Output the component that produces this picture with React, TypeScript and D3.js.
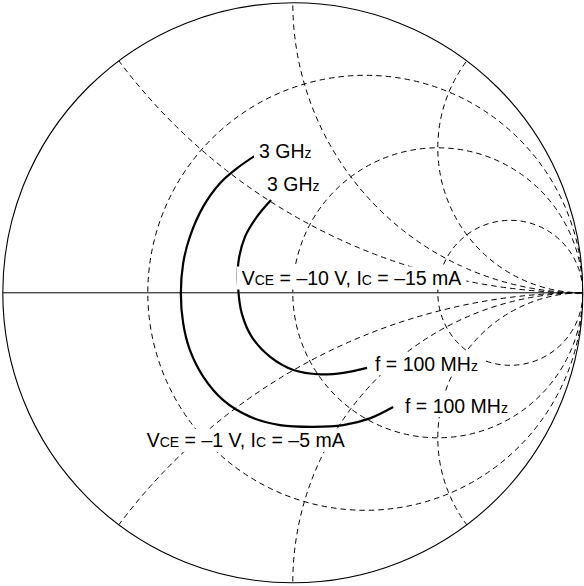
import * as React from 'react'
import * as d3 from 'd3'

const width = 584
const height = 586

// normalized resistance circles and reactance arcs of the grid
const resistanceValues = [1 / 3, 1, 3]
const reactanceValues = [0.5, 1, 2, -0.5, -1, -2]

// reflection coefficient [re, im], from 3 GHz down to 100 MHz
// VCE = -1 V, IC = -5 mA
const lowBiasGamma = [
  [-0.127, 0.475], [-0.193, 0.429], [-0.251, 0.378], [-0.309, 0.297],
  [-0.355, 0.193], [-0.378, 0.102], [-0.386, -0.002], [-0.378, -0.105],
  [-0.355, -0.197], [-0.309, -0.289], [-0.240, -0.370], [-0.148, -0.427],
  [-0.044, -0.456], [0.071, -0.462], [0.174, -0.456], [0.266, -0.433],
  [0.346, -0.394],
]
// VCE = -10 V, IC = -15 mA
const highBiasGamma = [
  [-0.075, 0.320], [-0.124, 0.262], [-0.165, 0.193], [-0.188, 0.102],
  [-0.188, 0.010], [-0.176, -0.071], [-0.142, -0.151], [-0.079, -0.220],
  [0.002, -0.266], [0.094, -0.281], [0.174, -0.276], [0.256, -0.259],
]

// label text pieces: [text, small]
const labelParts = [
  [['3 GH', false], ['z', true]],
  [['3 GH', false], ['z', true]],
  [['f = 100 MH', false], ['z', true]],
  [['f = 100 MH', false], ['z', true]],
  [['V', false], ['CE', true], [' = \u201310 V, I', false], ['C', true], [' = \u201315 mA', false]],
  [['V', false], ['CE', true], [' = \u20131 V, I', false], ['C', true], [' = \u20135 mA', false]],
]
// label anchors in the reflection plane
const labelAnchors = [
  [-0.1166, 0.4638],
  [-0.089, 0.352],
  [0.2834, -0.268],
  [0.3869, -0.4128],
  [-0.1762, 0.0269],
  [-0.5038, -0.5328],
]

const App = () => {
  const ref = React.useRef<SVGSVGElement>(null)

  React.useEffect(() => {
    const svg = d3.select(ref.current)
    svg.selectAll('*').remove()

    const cx = 292.8
    const cy = 292.8
    const R = 290
    const x = d3.scaleLinear().domain([-1, 1]).range([cx - R, cx + R])
    const y = d3.scaleLinear().domain([-1, 1]).range([cy + R, cy - R])
    const k = x(1) - x(0)

    svg.append('defs').append('clipPath').attr('id', 'unit')
      .append('circle').attr('cx', x(0)).attr('cy', y(0)).attr('r', k)

    const grid = svg.append('g')
      .attr('clip-path', 'url(#unit)')
      .attr('fill', 'none')
      .attr('stroke', '#000')
      .attr('stroke-width', 1)
      .attr('stroke-dasharray', '5.5,4')

    grid.selectAll('circle.res').data(resistanceValues).join('circle')
      .attr('class', 'res')
      .attr('cx', r => x(r / (1 + r)))
      .attr('cy', y(0))
      .attr('r', r => k / (1 + r))

    grid.selectAll('circle.rea').data(reactanceValues).join('circle')
      .attr('class', 'rea')
      .attr('cx', x(1))
      .attr('cy', v => y(1 / v))
      .attr('r', v => k / Math.abs(v))

    svg.append('line')
      .attr('x1', x(-1)).attr('x2', x(1))
      .attr('y1', y(0)).attr('y2', y(0))
      .attr('stroke', '#000').attr('stroke-width', 1)

    svg.append('circle')
      .attr('cx', x(0)).attr('cy', y(0)).attr('r', k)
      .attr('fill', 'none').attr('stroke', '#000').attr('stroke-width', 1.1)

    const line = d3.line<number[]>()
      .x(d => x(d[0]))
      .y(d => y(d[1]))
      .curve(d3.curveCatmullRom.alpha(0.5))

    svg.selectAll('path.trace').data([lowBiasGamma, highBiasGamma]).join('path')
      .attr('class', 'trace')
      .attr('d', d => line(d))
      .attr('fill', 'none')
      .attr('stroke', '#000')
      .attr('stroke-width', 2.2)

    labelParts.forEach((parts, i) => {
      const g = svg.append('g')
      const t = g.append('text')
        .attr('x', x(labelAnchors[i][0]))
        .attr('y', y(labelAnchors[i][1]))
        .attr('font-family', '"Liberation Sans", Arial, sans-serif')
        .attr('font-size', 19.5)
        .attr('fill', '#000')
        .style('white-space', 'pre')
      parts.forEach(([s, small]) => {
        t.append('tspan').attr('font-size', small ? 14 : 19.5).text(s as string)
      })
      const b = (t.node() as SVGTextElement).getBBox()
      g.insert('rect', 'text')
        .attr('x', b.x - 5)
        .attr('y', b.y - 0.5)
        .attr('width', b.width + 10)
        .attr('height', b.height + 1)
        .attr('fill', '#fff')
    })
  }, [])

  return (
    <svg ref={ref} width={width} height={height}
      style={{ position: 'absolute', left: 0, top: 0, background: '#fff' }} />
  )
}

export default App
